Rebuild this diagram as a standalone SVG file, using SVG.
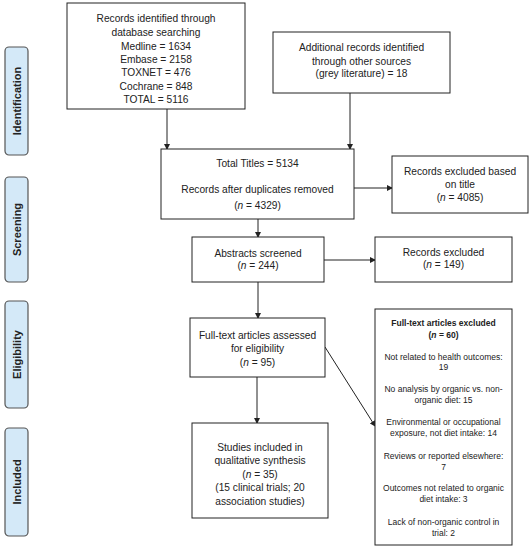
<svg xmlns="http://www.w3.org/2000/svg" width="532" height="550" viewBox="0 0 532 550">
<style>
.box{fill:#fff;stroke:#222;stroke-width:1}
.side{fill:#d4e9f8;stroke:#555;stroke-width:1.2}
text{font-family:"Liberation Sans",Arial,sans-serif;fill:#222;text-anchor:middle}
.t{font-size:10.2px}
.s{font-size:8.5px}
.b{font-weight:bold}
.lbl{font-size:11px;font-weight:bold}
.c{stroke:#222;stroke-width:1;fill:none;marker-end:url(#ah)}
</style>
<defs>
<marker id="ah" markerWidth="6" markerHeight="6" refX="5" refY="3" orient="auto" markerUnits="userSpaceOnUse">
<path d="M0,0 L6,3 L0,6 Z" fill="#222"/>
</marker>
</defs>
<rect width="532" height="550" fill="#fff"/>

<g id="side-identification">
<rect class="side" x="5" y="47" width="23" height="108" rx="4"/>
<text class="lbl" transform="translate(20.5,101) rotate(-90)">Identification</text>
</g>
<g id="side-screening">
<rect class="side" x="5" y="177" width="23" height="105" rx="4"/>
<text class="lbl" transform="translate(20.5,229.5) rotate(-90)">Screening</text>
</g>
<g id="side-eligibility">
<rect class="side" x="5" y="301" width="23" height="107" rx="4"/>
<text class="lbl" transform="translate(20.5,354.5) rotate(-90)">Eligibility</text>
</g>
<g id="side-included">
<rect class="side" x="5" y="428" width="23" height="108" rx="4"/>
<text class="lbl" transform="translate(20.5,482) rotate(-90)">Included</text>
</g>

<g id="connectors">
<line class="c" x1="167" y1="109" x2="167" y2="149"/>
<line class="c" x1="350" y1="93" x2="350" y2="149"/>
<line class="c" x1="354" y1="188" x2="392" y2="188"/>
<line class="c" x1="258" y1="219" x2="258" y2="237"/>
<line class="c" x1="324" y1="260" x2="375" y2="260"/>
<line class="c" x1="258" y1="282" x2="258" y2="318"/>
<line class="c" x1="257" y1="377" x2="257" y2="423"/>
<line class="c" x1="325" y1="347" x2="375" y2="426"/>
</g>

<g id="records-identified">
<rect class="box" x="67" y="3" width="178" height="106"/>
<text class="t" x="156" y="22">Records identified through</text>
<text class="t" x="156" y="36">database searching</text>
<text class="t" x="156" y="50">Medline = 1634</text>
<text class="t" x="156" y="63">Embase = 2158</text>
<text class="t" x="156" y="76">TOXNET = 476</text>
<text class="t" x="156" y="90">Cochrane = 848</text>
<text class="t" x="156" y="103">TOTAL = 5116</text>
</g>

<g id="additional-records">
<rect class="box" x="273" y="32" width="177" height="61"/>
<text class="t" x="361.5" y="51">Additional records identified</text>
<text class="t" x="361.5" y="65">through other sources</text>
<text class="t" x="361.5" y="77">(grey literature) = 18</text>
</g>

<g id="total-titles">
<rect class="box" x="161" y="149" width="193" height="70"/>
<text class="t" x="257.5" y="167">Total Titles = 5134</text>
<text class="t" x="257.5" y="193">Records after duplicates removed</text>
<text class="t" x="257.5" y="209">(<tspan font-style="italic">n</tspan> = 4329)</text>
</g>

<g id="excluded-title">
<rect class="box" x="392" y="156" width="136" height="57"/>
<text class="t" x="460" y="175">Records excluded based</text>
<text class="t" x="460" y="188">on title</text>
<text class="t" x="460" y="201">(<tspan font-style="italic">n</tspan> = 4085)</text>
</g>

<g id="abstracts-screened">
<rect class="box" x="192" y="237" width="132" height="45"/>
<text class="t" x="258" y="257">Abstracts screened</text>
<text class="t" x="258" y="269">(<tspan font-style="italic">n</tspan> = 244)</text>
</g>

<g id="records-excluded">
<rect class="box" x="375" y="237" width="137" height="45"/>
<text class="t" x="443.5" y="256">Records excluded</text>
<text class="t" x="443.5" y="268">(<tspan font-style="italic">n</tspan> = 149)</text>
</g>

<g id="fulltext-assessed">
<rect class="box" x="190" y="318" width="135" height="59"/>
<text class="t" x="257.5" y="339">Full-text articles assessed</text>
<text class="t" x="257.5" y="352">for eligibility</text>
<text class="t" x="257.5" y="366">(<tspan font-style="italic">n</tspan> = 95)</text>
</g>

<g id="studies-included">
<rect class="box" x="192" y="423" width="136" height="95"/>
<text class="t" x="260" y="451">Studies included in</text>
<text class="t" x="260" y="464">qualitative synthesis</text>
<text class="t" x="260" y="478">(<tspan font-style="italic">n</tspan> = 35)</text>
<text class="t" x="260" y="491">(15 clinical trials; 20</text>
<text class="t" x="260" y="505">association studies)</text>
</g>

<g id="fulltext-excluded">
<rect class="box" x="375" y="309" width="137" height="236"/>
<text class="s b" x="443.5" y="326">Full-text articles excluded</text>
<text class="s b" x="443.5" y="338">(<tspan font-style="italic">n</tspan> = 60)</text>
<text class="s" x="443.5" y="360">Not related to health outcomes:</text>
<text class="s" x="443.5" y="370">19</text>
<text class="s" x="443.5" y="392">No analysis by organic vs. non-</text>
<text class="s" x="443.5" y="403">organic diet: 15</text>
<text class="s" x="443.5" y="425">Environmental or occupational</text>
<text class="s" x="443.5" y="436">exposure, not diet intake: 14</text>
<text class="s" x="443.5" y="459">Reviews or reported elsewhere:</text>
<text class="s" x="443.5" y="470">7</text>
<text class="s" x="443.5" y="491">Outcomes not related to organic</text>
<text class="s" x="443.5" y="502">diet intake: 3</text>
<text class="s" x="443.5" y="525">Lack of non-organic control in</text>
<text class="s" x="443.5" y="536">trial: 2</text>
</g>
</svg>
